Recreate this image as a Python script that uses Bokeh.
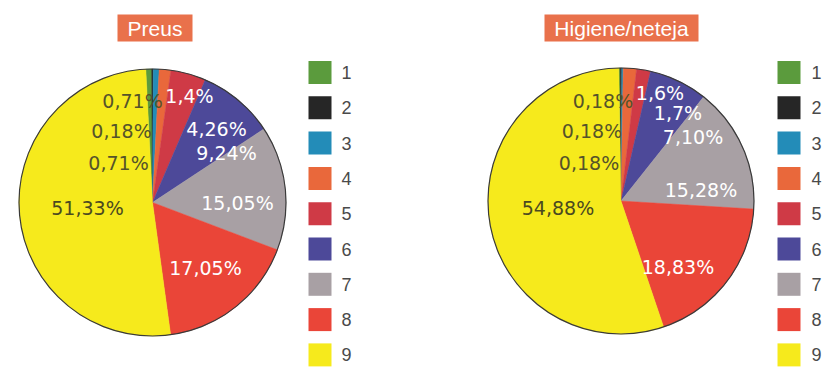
import numpy as np
from bokeh.plotting import figure
from bokeh.models import Range1d, ColumnDataSource
from bokeh.core.properties import value
from bokeh.embed import file_html
from bokeh.resources import INLINE

# ---------------- data ----------------
categories = ["1", "2", "3", "4", "5", "6", "7", "8", "9"]
preus = [0.71, 0.18, 0.71, 1.4, 4.26, 9.24, 15.05, 17.05, 51.33]
higiene = [0.18, 0.18, 0.18, 1.6, 1.7, 7.10, 15.28, 18.83, 54.88]
preus_labels = ["0,71%", "0,18%", "0,71%", "1,4%", "4,26%", "9,24%", "15,05%", "17,05%", "51,33%"]
higiene_labels = ["0,18%", "0,18%", "0,18%", "1,6%", "1,7%", "7,10%", "15,28%", "18,83%", "54,88%"]
titles = ["Preus", "Higiene/neteja"]

# ---------------- styles / layout ----------------
W, H = 830, 367
colors = ["#5b9b3d", "#262626", "#238cb8", "#e9683b", "#cf3a46",
          "#4d4999", "#a8a0a4", "#ea4538", "#f6ea1c"]
label_colors = ["#55532a"] * 3 + ["#ffffff"] * 5 + ["#4a4920"]
title_bg = "#e9714b"

pies = [
    dict(cx=152, cy=202, r=133.5, title_cx=154.5, title_w=75,
         leg_x=319.5, leg_tx=341,
         lab_dx=[-20, -31, -34, 37, 64, 74, 85, 53, -65],
         lab_dy=[-102, -72, -40, -107, -74, -50, 0, 65, 5]),
    dict(cx=620.5, cy=200.5, r=133, title_cx=621, title_w=154,
         leg_x=788.5, leg_tx=811,
         lab_dx=[-18, -29, -32, 39, 57, 72, 80, 57, -63],
         lab_dy=[-100, -70, -38, -108, -88, -64, -11, 66, 7]),
]
title_top, title_bot = 14, 41
leg_y0, leg_step, leg_size = 72, 35.3, 24


def Y(y):
    return H - y


p = figure(width=W, height=H, output_backend="svg", toolbar_location=None,
           x_range=Range1d(0, W), y_range=Range1d(0, H),
           x_axis_location=None, y_axis_location=None, min_border=0)
p.grid.visible = False
p.outline_line_color = None
p.background_fill_color = "white"
p.border_fill_color = "white"

for vals, labs, title, cfg in zip([preus, higiene], [preus_labels, higiene_labels], titles, pies):
    v = np.array(vals, dtype=float)
    frac = v / v.sum()
    ang = frac * 2 * np.pi
    # clockwise from top; category 2 centred at 12 o'clock
    start_cw = -(ang[0] + ang[1] / 2)
    cum = start_cw + np.concatenate([[0], np.cumsum(ang)])
    cw_start, cw_end = cum[:-1], cum[1:]
    src = ColumnDataSource(dict(
        x=[cfg["cx"]] * 9, y=[Y(cfg["cy"])] * 9,
        start=np.pi / 2 - cw_end, end=np.pi / 2 - cw_start,
        color=colors, cat=categories))
    p.wedge(x="x", y="y", radius=cfg["r"], start_angle="start", end_angle="end",
            direction="anticlock", fill_color="color", line_color="color",
            line_width=0.5, source=src)
    p.scatter(x=[cfg["cx"]], y=[Y(cfg["cy"])], size=2 * cfg["r"], marker="circle",
              fill_color=None, line_color="#3a3a3a", line_width=1.2)

    # percentage labels
    lsrc = ColumnDataSource(dict(
        x=[cfg["cx"] + d for d in cfg["lab_dx"]],
        y=[Y(cfg["cy"] + d) for d in cfg["lab_dy"]],
        t=labs, c=label_colors))
    p.text(x="x", y="y", text="t", text_color="c", source=lsrc,
           text_font=value("DejaVu Sans"), text_font_size="19px",
           text_align="center", text_baseline="middle")

    # title box
    p.quad(left=cfg["title_cx"] - cfg["title_w"] / 2, right=cfg["title_cx"] + cfg["title_w"] / 2,
           top=Y(title_top), bottom=Y(title_bot), fill_color=title_bg, line_color=None)
    p.text(x=[cfg["title_cx"]], y=[Y((title_top + title_bot) / 2)], text=[title],
           text_color="white", text_font=value("Liberation Sans"), text_font_size="21px",
           text_align="center", text_baseline="middle")

    # legend
    ly = [Y(leg_y0 + i * leg_step) for i in range(len(categories))]
    p.rect(x=[cfg["leg_x"]] * 9, y=ly, width=leg_size - 1, height=leg_size - 1,
           fill_color=colors, line_color=None)
    p.text(x=[cfg["leg_tx"]] * 9, y=ly, text=categories, text_color="#4a4a4a",
           text_font=value("Liberation Sans"), text_font_size="18px",
           text_align="left", text_baseline="middle")

open("out.html", "w").write(file_html(p, INLINE))
